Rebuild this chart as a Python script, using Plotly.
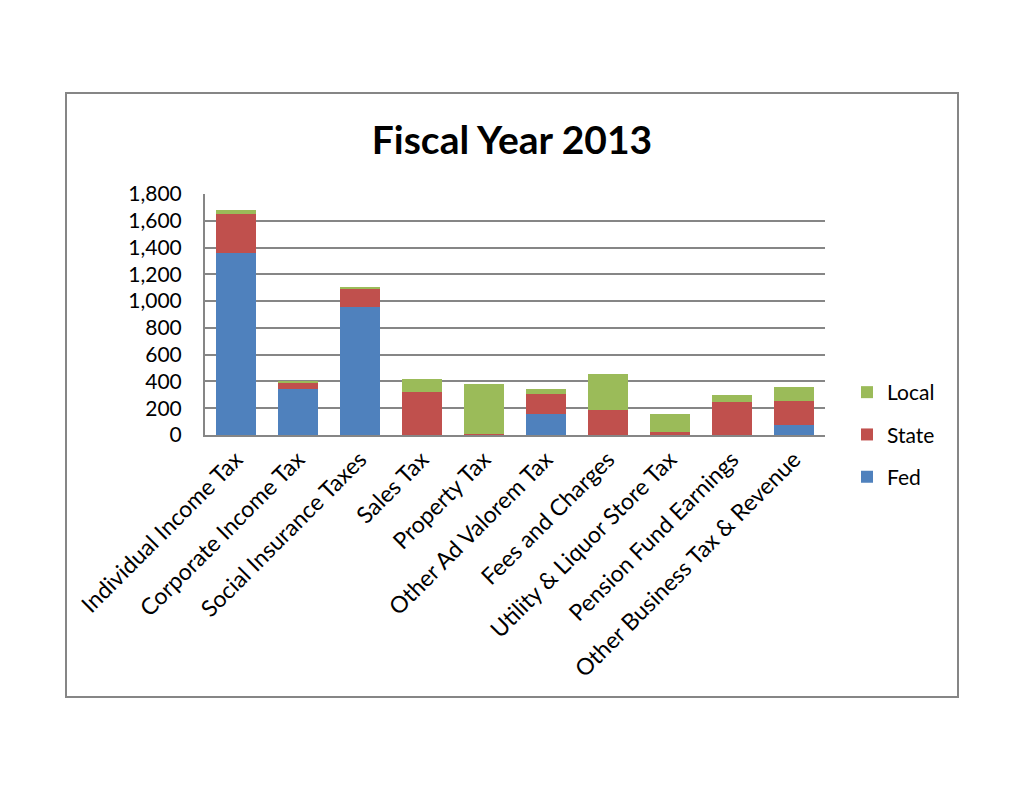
import plotly.graph_objects as go

categories = ["Individual Income Tax", "Corporate Income Tax", "Social Insurance Taxes",
              "Sales Tax", "Property Tax", "Other Ad Valorem Tax", "Fees and Charges",
              "Utility & Liquor Store Tax", "Pension Fund Earnings", "Other Business Tax & Revenue"]
fed = [1360, 345, 957, 0, 0, 155, 0, 0, 0, 77]
state = [290, 47, 137, 322, 10, 154, 189, 22, 247, 177]
local = [28, 10, 11, 97, 374, 33, 265, 133, 50, 103]
y_ticks = list(range(0, 1801, 200))

FONT = "Lato, Carlito, Calibri, sans-serif"
GRAY = "#868686"

fig = go.Figure()
for rank, (name, vals, col) in zip([3, 2, 1], [("Fed", fed, "#4F81BD"), ("State", state, "#C0504D"),
                                              ("Local", local, "#9BBB59")]):
    fig.add_trace(go.Bar(x=categories, y=vals, name=name, marker=dict(color=col, line=dict(width=0)),
                         legendgroup=name, legendrank=rank))

# plot area in pixels: x 205-825, y 194-435
L, R, T, B = 205, 825, 194, 435
W, H = 1024, 791
pw, ph = R - L, B - T

def px(x):
    return (x - L) / pw

def py(y):
    return (B - y) / ph

fig.add_shape(type="rect", xref="paper", yref="paper",
              x0=px(66), x1=px(958), y0=py(697), y1=py(93),
              line=dict(color=GRAY, width=2), fillcolor="rgba(0,0,0,0)", layer="below")

fig.update_layout(
    width=W, height=H,
    margin=dict(l=L, r=W - R, t=T, b=H - B, autoexpand=False),
    paper_bgcolor="white", plot_bgcolor="white",
    barmode="stack", bargap=0.355,
    font=dict(family=FONT, size=21, color="black"),
    title=dict(text="<b>Fiscal Year 2013</b>", x=px(512), xanchor="center", xref="paper",
               y=1 - 140 / H, yanchor="middle", font=dict(size=39, family=FONT)),
    legend=dict(x=px(847), xanchor="left", y=py(372), yanchor="top", traceorder="grouped",
                tracegroupgap=12, font=dict(size=21), itemwidth=30, bgcolor="rgba(0,0,0,0)"),
    xaxis=dict(tickangle=-45, showline=True, linecolor=GRAY, linewidth=2, showgrid=False,
               ticks="", tickfont=dict(size=23)),
    yaxis=dict(range=[0, 1800], tickvals=y_ticks, tickformat=",", showgrid=True, gridcolor=GRAY,
               gridwidth=2, showline=True, linecolor=GRAY, linewidth=2, zeroline=False,
               ticks="", ticklabelstandoff=17, tickfont=dict(size=21)),
)

fig.write_html("out.html", config={"displayModeBar": False},
               post_script="document.body.style.margin='0';")
